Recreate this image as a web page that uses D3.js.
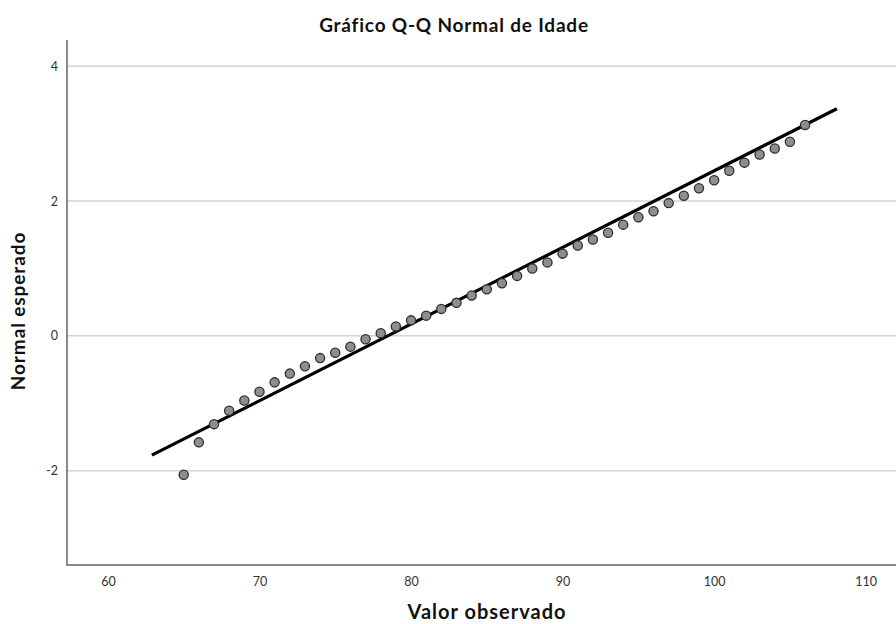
<!DOCTYPE html>
<html>
<head>
<meta charset="UTF-8">
<title>Gráfico Q-Q Normal de Idade</title>
<script src="https://d3js.org/d3.v7.min.js"></script>
<style>
  body { margin: 0; background: #fff; }
  .tick text { font: 12.5px Lato, sans-serif; fill: #333; }
  .grid line { stroke: #d4d4d4; stroke-width: 1.5; }
  .axis path { stroke: #8a8a8a; stroke-width: 2; }
  .lbl { font-family: Lato, sans-serif; font-weight: bold; fill: #111; }
</style>
</head>
<body>
<script>
var observed = [65, 66, 67, 68, 69, 70, 71, 72, 73, 74, 75, 76, 77, 78, 79, 80, 81, 82, 83, 84, 85,
                86, 87, 88, 89, 90, 91, 92, 93, 94, 95, 96, 97, 98, 99, 100, 101, 102, 103, 104, 105, 106];
var expected = [-2.06, -1.58, -1.31, -1.11, -0.96, -0.83, -0.69, -0.56, -0.45, -0.33, -0.25, -0.16, -0.05, 0.04,
                0.14, 0.23, 0.30, 0.40, 0.49, 0.60, 0.69, 0.78, 0.89, 1.00, 1.09, 1.22, 1.34, 1.43, 1.53, 1.65,
                1.76, 1.85, 1.97, 2.08, 2.19, 2.31, 2.45, 2.57, 2.69, 2.78, 2.88, 3.13];
// reference line endpoints
var lineX = [62.9, 108.1];
var lineY = [-1.77, 3.37];
var xTicks = [60, 70, 80, 90, 100, 110];
var yTicks = [-2, 0, 2, 4];

var W = 896, H = 624;
var pLeft = 67, pTop = 40, pRight = 896, pBottom = 565;

var svg = d3.select("body").append("svg")
    .attr("width", W)
    .attr("height", H);

var x = d3.scaleLinear().domain([57.3, 112]).range([pLeft, pRight]);
var y = d3.scaleLinear().domain([-3.4, 4.39]).range([pBottom, pTop]);

// gridlines
svg.append("g")
    .attr("class", "grid")
    .selectAll("line")
    .data(yTicks)
    .enter().append("line")
    .attr("x1", pLeft)
    .attr("x2", pRight)
    .attr("y1", function (d) { return y(d); })
    .attr("y2", function (d) { return y(d); });

// axes (plain hyphen for negatives, like the original)
var fmt = function (d) { return String(d); };

var xAxis = svg.append("g")
    .attr("class", "axis")
    .attr("transform", "translate(0," + pBottom + ")")
    .call(d3.axisBottom(x).tickValues(xTicks).tickFormat(fmt).tickSize(0).tickPadding(12).tickSizeOuter(0));
xAxis.select(".domain").attr("d", "M" + pLeft + ",0H" + pRight);

var yAxis = svg.append("g")
    .attr("class", "axis")
    .attr("transform", "translate(" + pLeft + ",0)")
    .call(d3.axisLeft(y).tickValues(yTicks).tickFormat(fmt).tickSize(0).tickPadding(9).tickSizeOuter(0));
yAxis.select(".domain").attr("d", "M0," + pTop + "V" + (pBottom + 1));

// reference line
svg.append("line")
    .attr("x1", x(lineX[0]))
    .attr("y1", y(lineY[0]))
    .attr("x2", x(lineX[1]))
    .attr("y2", y(lineY[1]))
    .attr("stroke", "#000")
    .attr("stroke-width", 3.2);

// points
svg.selectAll(".pt")
    .data(observed)
    .enter().append("circle")
    .attr("class", "pt")
    .attr("cx", function (d) { return x(d); })
    .attr("cy", function (d, i) { return y(expected[i]); })
    .attr("r", 4.6)
    .attr("fill", "#8e8e8e")
    .attr("stroke", "#2e2e2e")
    .attr("stroke-width", 1.3);

// titles
svg.append("text")
    .attr("class", "lbl")
    .attr("x", 454)
    .attr("y", 32)
    .attr("text-anchor", "middle")
    .style("font-size", "19px")
    .style("letter-spacing", "0.8px")
    .text("Gráfico Q-Q Normal de Idade");

svg.append("text")
    .attr("class", "lbl")
    .attr("x", 487)
    .attr("y", 619)
    .attr("text-anchor", "middle")
    .style("font-size", "20px")
    .style("letter-spacing", "1px")
    .text("Valor observado");

svg.append("text")
    .attr("class", "lbl")
    .attr("transform", "translate(25,311) rotate(-90)")
    .attr("text-anchor", "middle")
    .style("font-size", "19px")
    .style("letter-spacing", "0.9px")
    .text("Normal esperado");
</script>
</body>
</html>
